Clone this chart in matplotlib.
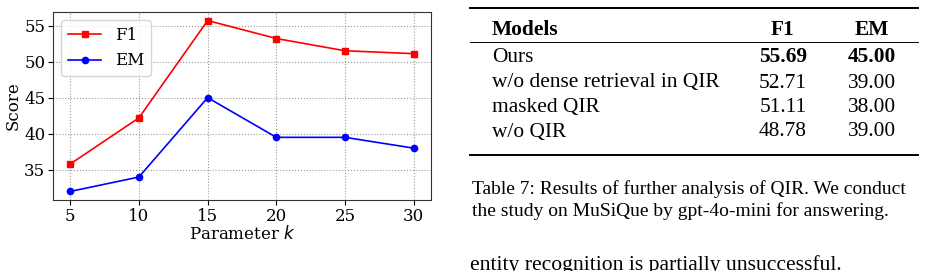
import matplotlib
matplotlib.use("Agg")
import matplotlib.pyplot as plt
from matplotlib.lines import Line2D

# line chart data
k_values = [5, 10, 15, 20, 25, 30]
f1_scores = [35.8, 42.2, 55.69, 53.2, 51.5, 51.1]
em_scores = [32.0, 34.0, 45.0, 39.5, 39.5, 38.0]

# table data
table_header = ["Models", "F1", "EM"]
table_models = ["Ours", "w/o dense retrieval in QIR", "masked QIR", "w/o QIR"]
table_f1 = ["55.69", "52.71", "51.11", "48.78"]
table_em = ["45.00", "39.00", "38.00", "39.00"]

caption_lines = [
    "Table 7: Results of further analysis of QIR. We conduct",
    "the study on MuSiQue by gpt-4o-mini for answering.",
]
body_line = "entity recognition is partially unsuccessful."

W, H = 925, 271
fig = plt.figure(figsize=(W / 100, H / 100), dpi=100)


def fx(px):
    return px / W


def fy(py):
    return 1 - py / H


# --- left: line plot ---
ax = fig.add_axes([fx(53), fy(200), fx(431) - fx(53), fy(12) - fy(200)])
serif = "DejaVu Serif"
ax.plot(k_values, f1_scores, color="red", marker="s", markersize=5, lw=1.2, label="F1")
ax.plot(k_values, em_scores, color="blue", marker="o", markersize=4.5, lw=1.2, label="EM")
ax.grid(True, linestyle=":", color="gray", alpha=0.8, lw=0.8)
ax.set_xticks(k_values)
ax.set_yticks([35, 40, 45, 50, 55])
for lab in ax.get_xticklabels() + ax.get_yticklabels():
    lab.set_fontfamily(serif)
    lab.set_fontsize(12)
ax.set_xlabel("Parameter $k$", fontfamily=serif, fontsize=12, labelpad=0)
ax.set_ylabel("Score", fontfamily=serif, fontsize=12, labelpad=2)
ax.tick_params(length=3.5, pad=2)
for sp in ax.spines.values():
    sp.set_color("#333333")
leg = ax.legend(loc="upper left", prop={"family": serif, "size": 12})

# --- right: table ---
def rule(y, lw):
    fig.add_artist(Line2D([fx(470), fx(918)], [fy(y), fy(y)], color="black", lw=lw))


rule(8, 1.4)
rule(42, 0.7)
rule(155, 1.4)

tfont = "Liberation Serif"
tsize = 15.4
col_x = [492, 783, 872]
fig.text(fx(col_x[0]), fy(35), table_header[0], family=tfont, weight="bold", fontsize=tsize, va="baseline")
fig.text(fx(col_x[1]), fy(35), table_header[1], family=tfont, weight="bold", fontsize=tsize, va="baseline", ha="center")
fig.text(fx(col_x[2]), fy(35), table_header[2], family=tfont, weight="bold", fontsize=tsize, va="baseline", ha="center")

row_y = [62.5, 87.5, 112, 136.5]
for i, y in enumerate(row_y):
    w = "bold" if i == 0 else "normal"
    fig.text(fx(col_x[0]), fy(y), table_models[i], family=tfont, fontsize=tsize, va="baseline")
    fig.text(fx(col_x[1]), fy(y), table_f1[i], family=tfont, fontsize=tsize, va="baseline", ha="center", weight=w)
    fig.text(fx(col_x[2]), fy(y), table_em[i], family=tfont, fontsize=tsize, va="baseline", ha="center", weight=w)

# caption and body text
for line, y in zip(caption_lines, [194, 216]):
    fig.text(fx(472), fy(y), line, family=tfont, fontsize=14, va="baseline")
fig.text(fx(470), fy(270), body_line, family=tfont, fontsize=15.6, va="baseline")

fig.savefig("out.png", dpi=100)
